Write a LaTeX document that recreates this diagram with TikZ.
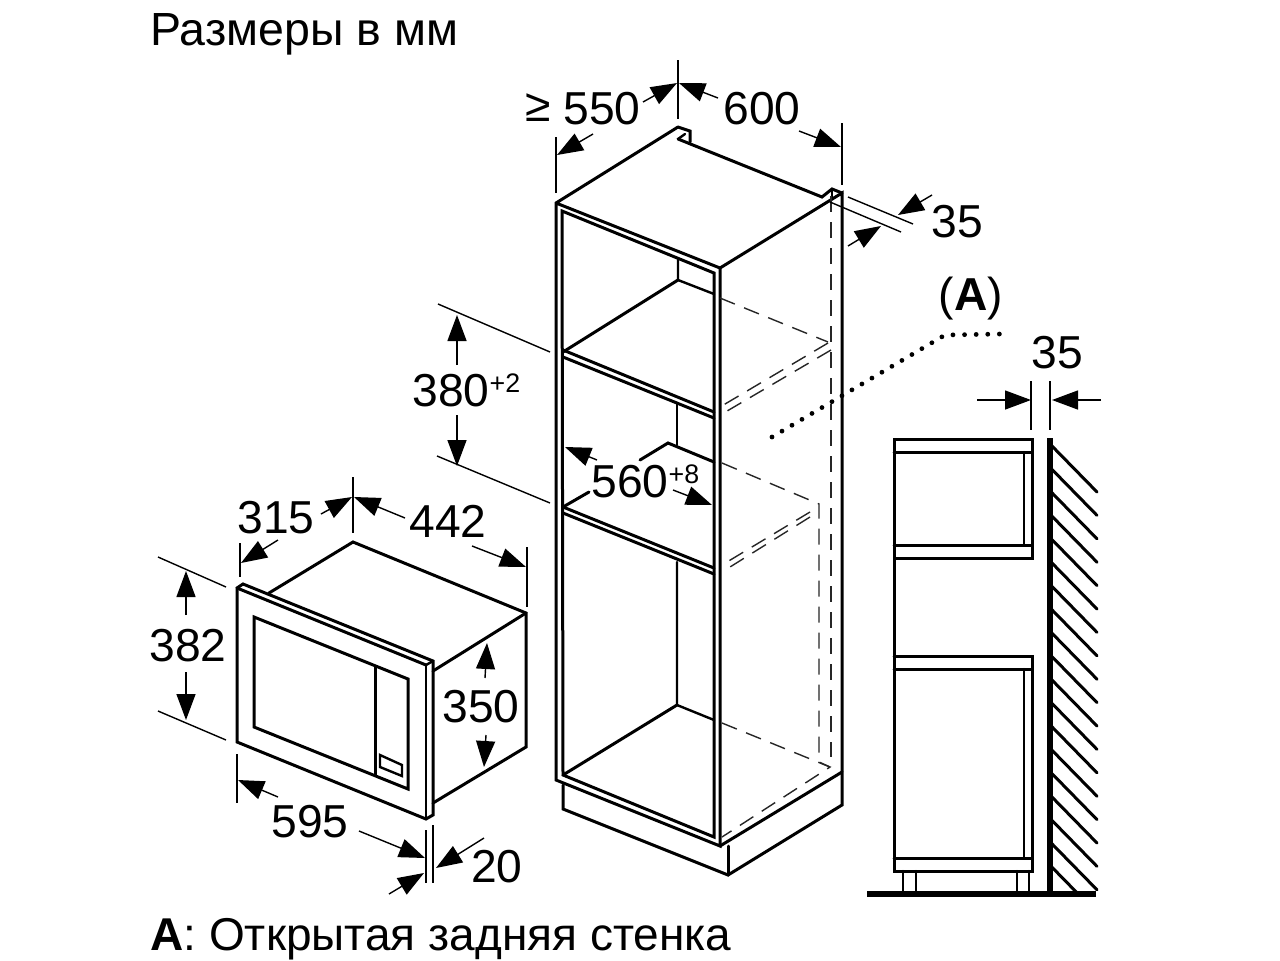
\documentclass[tikz,border=0pt]{standalone}
\usepackage{fontspec}
\setmainfont{Liberation Sans}
\usetikzlibrary{arrows.meta}
\tikzset{
  heavy/.style={line width=1.5pt,line cap=round,line join=miter,black},
  medium/.style={line width=1.2pt,line cap=round,line join=miter,black},
  thinline/.style={line width=0.7pt,black},
  hid/.style={line width=0.7pt,black!85,dash pattern=on 8pt off 5pt},
  dimarrow/.style={line width=0.7pt,black,-{Triangle[length=13pt,width=9.5pt]}},
  lab/.style={inner sep=0pt,font=\fontsize{23.1}{23.1}\selectfont,text=black},
  caplab/.style={inner sep=0pt,text=black},
  sup/.style={inner sep=0pt,font=\fontsize{13.4}{13.4}\selectfont,text=black},
  dotline/.style={line width=2.4pt,line cap=round,dash pattern=on 0pt off 5.8pt,black},
}
\begin{document}
\begin{tikzpicture}[x=0.5pt,y=-0.5pt]
\useasboundingbox (0,0) rectangle (1280,960);
\fill[white] (0,0) rectangle (1280,960);

% captions
\node[caplab,font=\fontsize{23.25}{23.25}\selectfont,anchor=base west] (title) at (150,45) {Размеры в мм};
\node[caplab,font=\fontsize{23}{23}\selectfont,anchor=base west] (legend) at (150,950) {\textbf{A}: Открытая задняя стенка};

% ===== tall cabinet =====
\draw[heavy] (678,127) -- (556,203) -- (556,780) -- (720,846) -- (720,268) -- (556,203);
\draw[heavy] (720,268) -- (842,193) -- (842,805) -- (728,875) -- (563,809) -- (563,785);
\draw[heavy] (720,846) -- (842,772);
\draw[heavy] (728,846) -- (728,875);
\draw[heavy] (562,211) -- (714,273) -- (714,837) -- (563,775) -- cycle;
\draw[heavy] (678,127) -- (690,131) -- (690,142);
\draw[heavy] (678,139) -- (822,197) -- (832,189) -- (842,193);
\draw[medium] (678,139) -- (685,134);
\draw[thinline] (832,189) -- (832,200);
% back verticals
\draw[medium] (678,258) -- (678,280) -- (714,294);
\draw[heavy] (678,280) -- (563,352);
\draw[heavy] (563,350) -- (714,412);
\draw[heavy] (563,357) -- (714,418);
\draw[medium] (677,403) -- (677,445);
\draw[heavy] (589,492) -- (563,507);
\draw[heavy] (640,460) -- (668,443) -- (714,462);
\draw[heavy] (563,507) -- (714,568);
\draw[heavy] (563,513) -- (714,574);
\draw[medium] (677,562) -- (677,705) -- (714,720);
\draw[heavy] (677,705) -- (563,775);

% hidden edges
\draw[hid] (720,298) -- (828,342);
\draw[hid] (831,196) -- (831,757);
\draw[hid] (828,343) -- (720,407);
\draw[hid] (831,350) -- (722,414);
\draw[hid] (722,463) -- (819,504) -- (819,762) -- (830,767);
\draw[hid] (810,512) -- (722,565);
\draw[hid] (810,517) -- (722,572);
\draw[hid] (722,723) -- (830,767) -- (722,837);

% dotted leader
\draw[dotline] (772,437) -- (945,335) -- (1000,334);

% cabinet dimensions
\draw[thinline] (556,137) -- (556,193);
\draw[thinline] (678,60) -- (678,119);
\draw[thinline] (842,123) -- (842,185);
\draw[dimarrow] (593,134) -- (557,155);
\draw[dimarrow] (643,102) -- (677,83);
\draw[dimarrow] (718,98) -- (679,83);
\draw[dimarrow] (799,131) -- (841,147);
\draw[thinline] (848,197) -- (913,224);
\draw[thinline] (830,202) -- (901,232);
\draw[dimarrow] (932,195) -- (898,215);
\draw[dimarrow] (848,246) -- (881,226);
\draw[thinline] (438,304) -- (550,352);
\draw[thinline] (437,456) -- (550,503);
\draw[dimarrow] (457,365) -- (457,315);
\draw[dimarrow] (457,415) -- (457,466);
\draw[dimarrow] (597,460) -- (565,447);
\draw[dimarrow] (673,490) -- (712,505);

\node[lab] (geq) at (538,108) {≥};
\node[lab] (d550) at (602,109) {550};
\node[lab] (d600) at (762,109) {600};
\node[lab] (d35a) at (957,222) {35};
\node[lab] (d380) at (451,391) {380};
\node[sup] (d380s) at (505,383) {+2};
\node[lab] (d560) at (630,482) {560};
\node[sup] (d560s) at (684,474) {+8};
\node[lab] (markA) at (971,299) {(\textbf{A})};

% ===== microwave =====
\draw[heavy] (269,593) -- (353,542) -- (526,613) -- (526,747) -- (433,803);
\draw[heavy] (526,613) -- (433,671);
\draw[heavy] (237,588) -- (243,584) -- (433,661) -- (433,815) -- (426,819) -- (237,742) -- cycle;
\draw[heavy] (237,588) -- (426,665);
\draw[medium] (426,665) -- (433,661);
\draw[medium] (426,665) -- (426,819);
\draw[heavy] (254,617) -- (408,679) -- (408,789) -- (254,727) -- cycle;
\draw[heavy] (375,667) -- (375,775);
\draw[medium] (380,755) -- (402,765) -- (402,776) -- (380,767) -- cycle;

% microwave dimensions
\draw[thinline] (240,543) -- (240,577);
\draw[thinline] (353,477) -- (353,533);
\draw[thinline] (527,547) -- (527,607);
\draw[dimarrow] (278,540) -- (241,563);
\draw[dimarrow] (321,514) -- (352,497);
\draw[dimarrow] (405,518) -- (354,497);
\draw[dimarrow] (472,546) -- (526,567);
\draw[thinline] (158,557) -- (226,587);
\draw[thinline] (158,711) -- (226,740);
\draw[dimarrow] (186,615) -- (186,571);
\draw[dimarrow] (186,672) -- (186,720);
\draw[dimarrow] (485,678) -- (487,643);
\draw[dimarrow] (486,735) -- (484,767);
\draw[thinline] (237,754) -- (237,803);
\draw[thinline] (426,830) -- (426,883);
\draw[thinline] (433,825) -- (433,883);
\draw[dimarrow] (278,797) -- (238,780);
\draw[dimarrow] (359,831) -- (425,858);
\draw[dimarrow] (484,838) -- (436,868);
\draw[dimarrow] (389,894) -- (424,873);

\node[lab] (d315) at (276,518) {315};
\node[lab] (d442) at (448,521) {442};
\node[lab] (d382) at (188,646) {382};
\node[lab] (d350) at (481,707) {350};
\node[lab] (d595) at (310,822) {595};
\node[lab] (d20) at (497,867) {20};

% ===== side view =====
\draw[heavy] (894,439) rectangle (1032,558);
\draw[heavy] (894,452) -- (1032,452);
\draw[heavy] (894,545) -- (1032,545);
\draw[medium] (1024,452) -- (1024,545);
\draw[heavy] (894,558) -- (894,871) -- (1032,871) -- (1032,656) -- (894,656);
\draw[heavy] (894,669) -- (1032,669);
\draw[heavy] (894,858) -- (1032,858);
\draw[medium] (1024,669) -- (1024,858);
\draw[medium] (903,871) -- (903,892);
\draw[medium] (916,871) -- (916,892);
\draw[medium] (1017,871) -- (1017,892);
\draw[medium] (1029,871) -- (1029,892);
% wall hatching
\begin{scope}
\clip (1050,430) rectangle (1100,893);
\foreach \k in {0,...,18}{
  \draw[heavy] (1050,{444+23.4*\k}) -- (1097,{492+23.4*\k});
}
\end{scope}
\draw[line width=2.6pt,black] (1050,438) -- (1050,894);
\draw[line width=2.6pt,black] (867,894) -- (1096,894);

% side view dimension
\draw[thinline] (1031,381) -- (1031,430);
\draw[thinline] (1050,381) -- (1050,430);
\draw[dimarrow] (977,400) -- (1031,400);
\draw[dimarrow] (1101,400) -- (1052,400);
\node[lab] (d35b) at (1057,353) {35};
\end{tikzpicture}
\end{document}
